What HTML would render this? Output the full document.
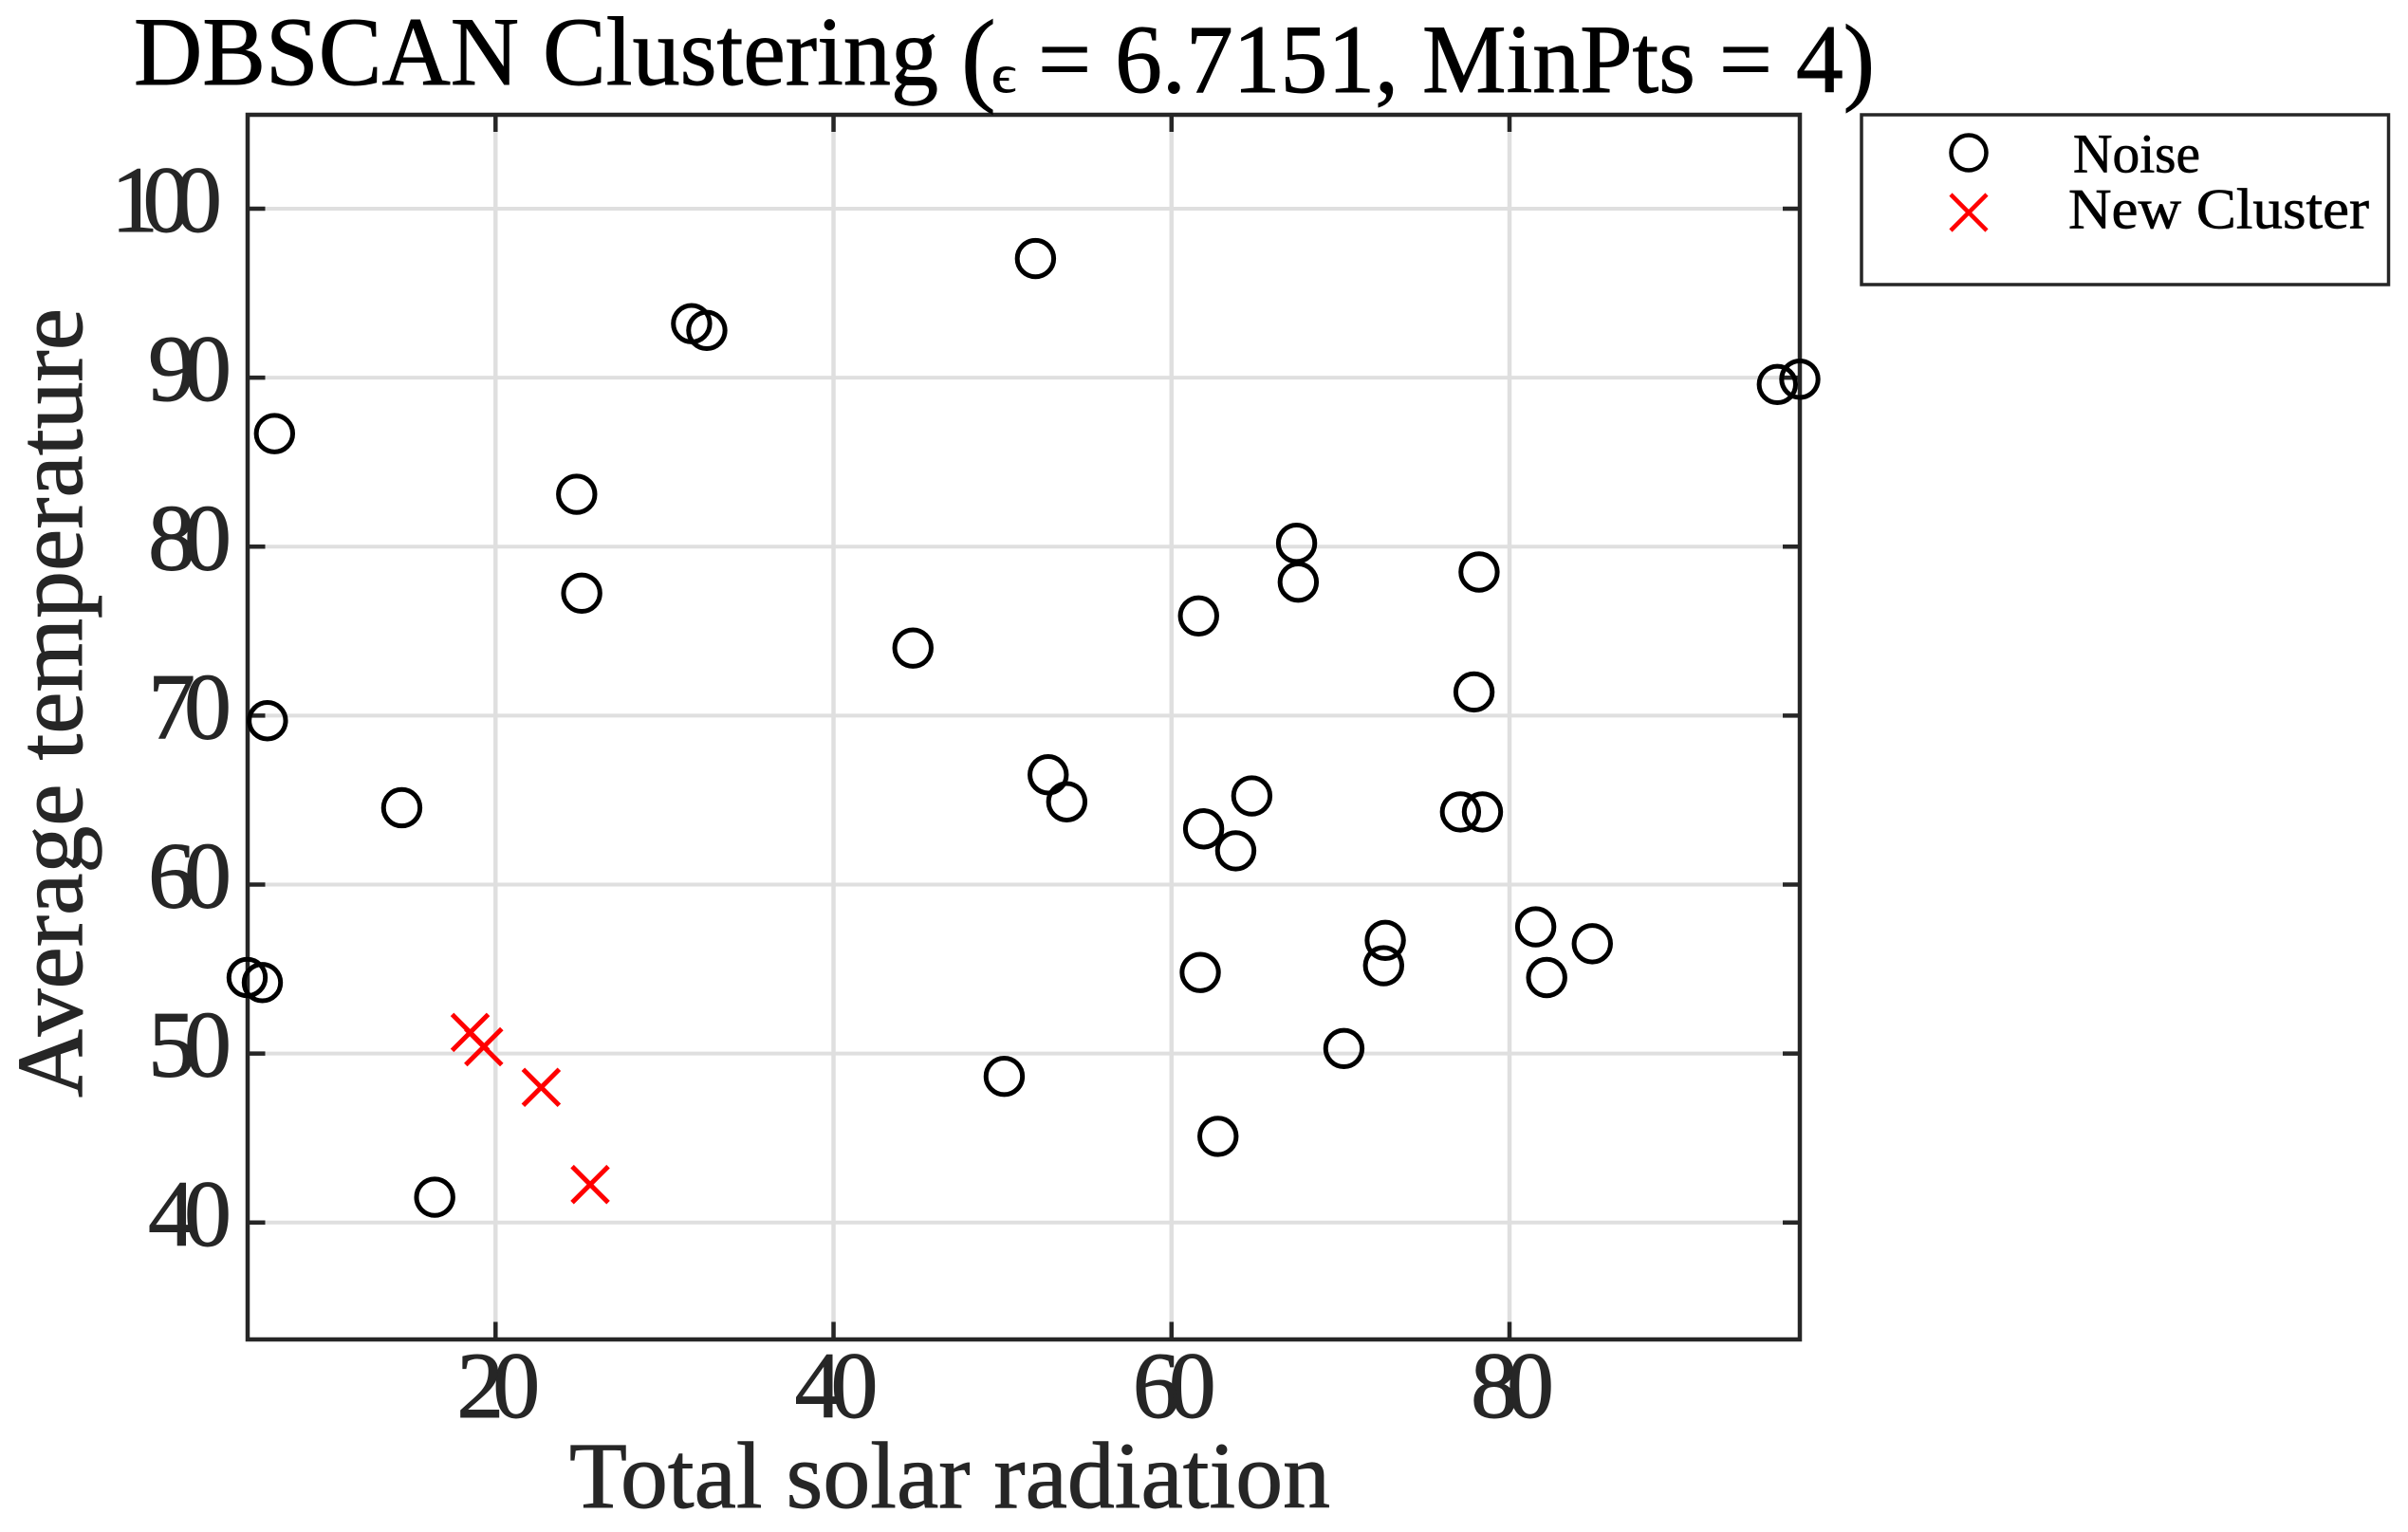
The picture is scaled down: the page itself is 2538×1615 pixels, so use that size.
<!DOCTYPE html>
<html lang="en">
<head>
<meta charset="utf-8">
<title>DBSCAN Clustering</title>
<style>
html,body{margin:0;padding:0;background:#fff;}
svg{display:block;}
text{font-family:"Liberation Serif","DejaVu Serif",serif;}
</style>
</head>
<body>
<svg id="chart" xmlns="http://www.w3.org/2000/svg" width="2538" height="1615" viewBox="0 0 2538 1615">
  <rect x="0" y="0" width="2538" height="1615" fill="#fff"/>
  <g id="grid"></g>
  <rect x="261" y="121" width="1636" height="1291" fill="none" stroke="#262626" stroke-width="4.5"/>
  <g id="ticks"></g>
  <g id="labels"></g>
  <g id="marks"></g>

  <g fill="#000" stroke="#000" stroke-width="0.9">
    <text x="141" y="89" font-size="103" textLength="848" lengthAdjust="spacingAndGlyphs">DBSCAN Clustering</text>
    <text x="1013" y="97" font-size="110">(</text>
    <text x="1045" y="97" font-size="56" textLength="26" lengthAdjust="spacingAndGlyphs">ϵ</text>
    <text x="1094" y="97" font-size="103" textLength="882" lengthAdjust="spacingAndGlyphs">= 6.7151, MinPts = 4)</text>
  </g>
  <text x="600" y="1589" font-size="100" fill="#262626" stroke="#262626" stroke-width="0.9" textLength="802" lengthAdjust="spacingAndGlyphs">Total solar radiation</text>
  <text transform="translate(86,1157) rotate(-90)" x="0" y="0" font-size="100" fill="#262626" stroke="#262626" stroke-width="0.9" textLength="832" lengthAdjust="spacingAndGlyphs">Average temperature</text>

  <g>
    <rect x="1962" y="121" width="555.5" height="179" fill="#fff" stroke="#262626" stroke-width="3.5"/>
    <circle cx="2075" cy="161" r="18.5" fill="none" stroke="#000" stroke-width="4.5"/>
    <text x="2185" y="181.5" font-size="58" fill="#000" stroke="#000" stroke-width="0.7" textLength="134" lengthAdjust="spacingAndGlyphs">Noise</text>
    <path d="M2056 205L2094 243M2094 205L2056 243" fill="none" stroke="#ff0000" stroke-width="4.5"/>
    <text x="2180" y="240.5" font-size="60" fill="#000" stroke="#000" stroke-width="0.7" textLength="317" lengthAdjust="spacingAndGlyphs">New Cluster</text>
  </g>
</svg>
<script>
const xTickValues = [20, 40, 60, 80];
const yTickValues = [40, 50, 60, 70, 80, 90, 100];
const noiseX = [51.95, 31.6, 32.5, 6.92, 24.8, 25.1, 44.7, 6.5, 14.45, 5.3, 6.2, 16.4, 50.1, 52.7, 53.8, 61.6, 67.4, 67.5, 78.2, 77.9, 61.9, 64.75, 63.8, 77.1, 78.4, 72.65, 72.55, 61.7, 70.2, 62.75, 81.55, 82.2, 84.9, 95.85, 97.18];
const noiseY = [97.05, 93.2, 92.8, 86.69, 83.1, 77.25, 74.0, 69.7, 64.55, 54.5, 54.2, 41.5, 48.65, 66.5, 64.9, 75.9, 80.2, 77.9, 78.5, 71.4, 63.3, 65.25, 62.0, 64.3, 64.3, 56.7, 55.2, 54.8, 50.3, 45.1, 57.5, 54.5, 56.5, 89.6, 89.91];
const clusterX = [18.5, 19.3, 22.7, 25.6];
const clusterY = [51.25, 50.4, 48.0, 42.25];

const NS = "http://www.w3.org/2000/svg";
const plot = {left: 261.5, right: 1897, top: 121, bottom: 1411.5};
const xDomain = [5.358, 97.18];
const yDomain = [33.11, 105.56];
function xScale(v) { return plot.left + (v - xDomain[0]) / (xDomain[1] - xDomain[0]) * (plot.right - plot.left); }
function yScale(v) { return plot.bottom - (v - yDomain[0]) / (yDomain[1] - yDomain[0]) * (plot.bottom - plot.top); }
function make(tag, attrs) {
  const el = document.createElementNS(NS, tag);
  for (const k in attrs) el.setAttribute(k, attrs[k]);
  return el;
}
const gridG = document.getElementById("grid");
const ticksG = document.getElementById("ticks");
const labelsG = document.getElementById("labels");
const marksG = document.getElementById("marks");
const TICK = 17;

xTickValues.forEach(function (v) {
  const x = xScale(v);
  const g = make("line", {x1: x, x2: x, y1: plot.top, y2: plot.bottom, stroke: "#dfdfdf", "stroke-width": 4.5});
  
  
  gridG.appendChild(g);
  const t1 = make("line", {x1: x, x2: x, y1: plot.bottom, y2: plot.bottom - TICK - 1, stroke: "#262626", "stroke-width": 4.5});
  
  
  ticksG.appendChild(t1);
  const t2 = make("line", {x1: x, x2: x, y1: plot.top, y2: plot.top + TICK + 1, stroke: "#262626", "stroke-width": 4.5});
  
  
  ticksG.appendChild(t2);
  const label = make("text", {x: x - 41, y: 1494, "font-size": 100, fill: "#262626", stroke: "#262626", "stroke-width": 0.9, "letter-spacing": "-12px"});
  
  
  label.textContent = String(v);
  labelsG.appendChild(label);
});

yTickValues.forEach(function (v) {
  const y = yScale(v);
  const g = make("line", {x1: plot.left, x2: plot.right, y1: y, y2: y, stroke: "#dfdfdf", "stroke-width": 4});
  
  
  gridG.appendChild(g);
  const t1 = make("line", {x1: plot.left, x2: plot.left + TICK + 1, y1: y, y2: y, stroke: "#262626", "stroke-width": 4.5});
  
  
  ticksG.appendChild(t1);
  const t2 = make("line", {x1: plot.right, x2: plot.right - TICK - 1, y1: y, y2: y, stroke: "#262626", "stroke-width": 4.5});
  
  
  ticksG.appendChild(t2);
  const startX = v >= 100 ? 117 : 156;
  const label = make("text", {x: startX, y: y + 24, "font-size": 100, fill: "#262626", stroke: "#262626", "stroke-width": 0.9, "letter-spacing": v >= 100 ? "-16.5px" : "-12px"});
  
  
  label.textContent = String(v);
  labelsG.appendChild(label);
});

noiseX.forEach(function (v, i) {
  const c = make("circle", {cx: xScale(v), cy: yScale(noiseY[i]), r: 19.2, fill: "none", stroke: "#000", "stroke-width": 5});
  
  
  marksG.appendChild(c);
});

clusterX.forEach(function (v, i) {
  const cx = xScale(v);
  const cy = yScale(clusterY[i]);
  const s = 19;
  const p = make("path", {d: "M" + (cx - s) + " " + (cy - s) + "L" + (cx + s) + " " + (cy + s) + "M" + (cx + s) + " " + (cy - s) + "L" + (cx - s) + " " + (cy + s), fill: "none", stroke: "#ff0000", "stroke-width": 5});
  
  
  marksG.appendChild(p);
});
</script>
</body>
</html>
